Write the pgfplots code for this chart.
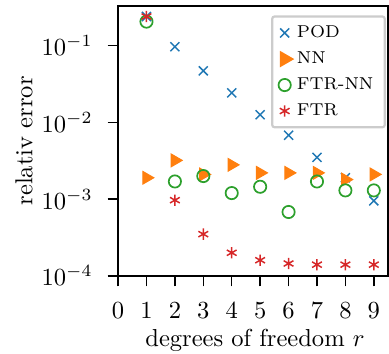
\documentclass[border=0pt]{standalone}
\usepackage{pgfplots}
\pgfplotsset{compat=1.18}
\definecolor{tabblue}{HTML}{1F77B4}
\definecolor{taborange}{HTML}{FF7F0E}
\definecolor{tabgreen}{HTML}{2CA02C}
\definecolor{tabred}{HTML}{D62728}
\begin{document}
\begin{tikzpicture}
\begin{axis}[
  name=ax,
  scale only axis,
  width=110pt, height=110pt,
  ymode=log,
  xmin=0, xmax=9.5,
  ymin=1e-4, ymax=0.33,
  xtick={0,1,...,9},
  ytick={1e-4,1e-3,1e-2,1e-1},
  yminorticks=false,
  tick align=outside,
  tick pos=left,
  axis line style={line width=0.9pt},
  major tick style={black, line width=0.6pt},
  xticklabel style={yshift=-3.2pt},
  yticklabel style={xshift=-2.6pt},
  legend cell align=left,
  legend style={at={(0.992,0.965)}, anchor=north east, font=\scriptsize,
    draw=black!20, line width=0.9pt, rounded corners=1pt, inner xsep=2.6pt, inner ysep=1.5pt, row sep=0.3pt},
]
\addplot[only marks, mark=x, mark size=2.6pt, tabblue, line width=0.6pt] coordinates {
(1,0.24) (2,0.097) (3,0.047) (4,0.0243) (5,0.0126) (6,0.0068) (7,0.0035) (8,0.0019) (9,0.00095)};
\addlegendentry{POD}
\addplot[only marks, mark=triangle*, mark options={rotate=-90}, mark size=3pt, taborange] coordinates {
(1,0.0019) (2,0.0032) (3,0.0021) (4,0.0028) (5,0.0022) (6,0.0022) (7,0.0022) (8,0.0018) (9,0.0021)};
\addlegendentry{NN}
\addplot[only marks, mark=o, mark size=2.5pt, tabgreen, line width=0.7pt] coordinates {
(1,0.206) (2,0.0017) (3,0.0020) (4,0.0012) (5,0.00145) (6,0.00068) (7,0.0017) (8,0.0013) (9,0.0013)};
\addlegendentry{FTR-NN}
\addplot[only marks, mark=asterisk, mark size=2.3pt, tabred, line width=0.6pt] coordinates {
(1,0.24) (2,0.00097) (3,0.00035) (4,0.0002) (5,0.00016) (6,0.000145) (7,0.00014) (8,0.00014) (9,0.00014)};
\addlegendentry{FTR}
\end{axis}
\node[rotate=90, anchor=center, inner sep=0pt] at ([xshift=-38.3pt]ax.west) {relativ error};
\node[anchor=base, inner sep=0pt] at ([yshift=-28.9pt, xshift=0.8pt]ax.south) {degrees of freedom $r$};
\pgfresetboundingbox
\path ([xshift=-48.1pt, yshift=-31.8pt]ax.south west) rectangle ([xshift=0.4pt, yshift=2.4pt]ax.north east);
\end{tikzpicture}
\end{document}
